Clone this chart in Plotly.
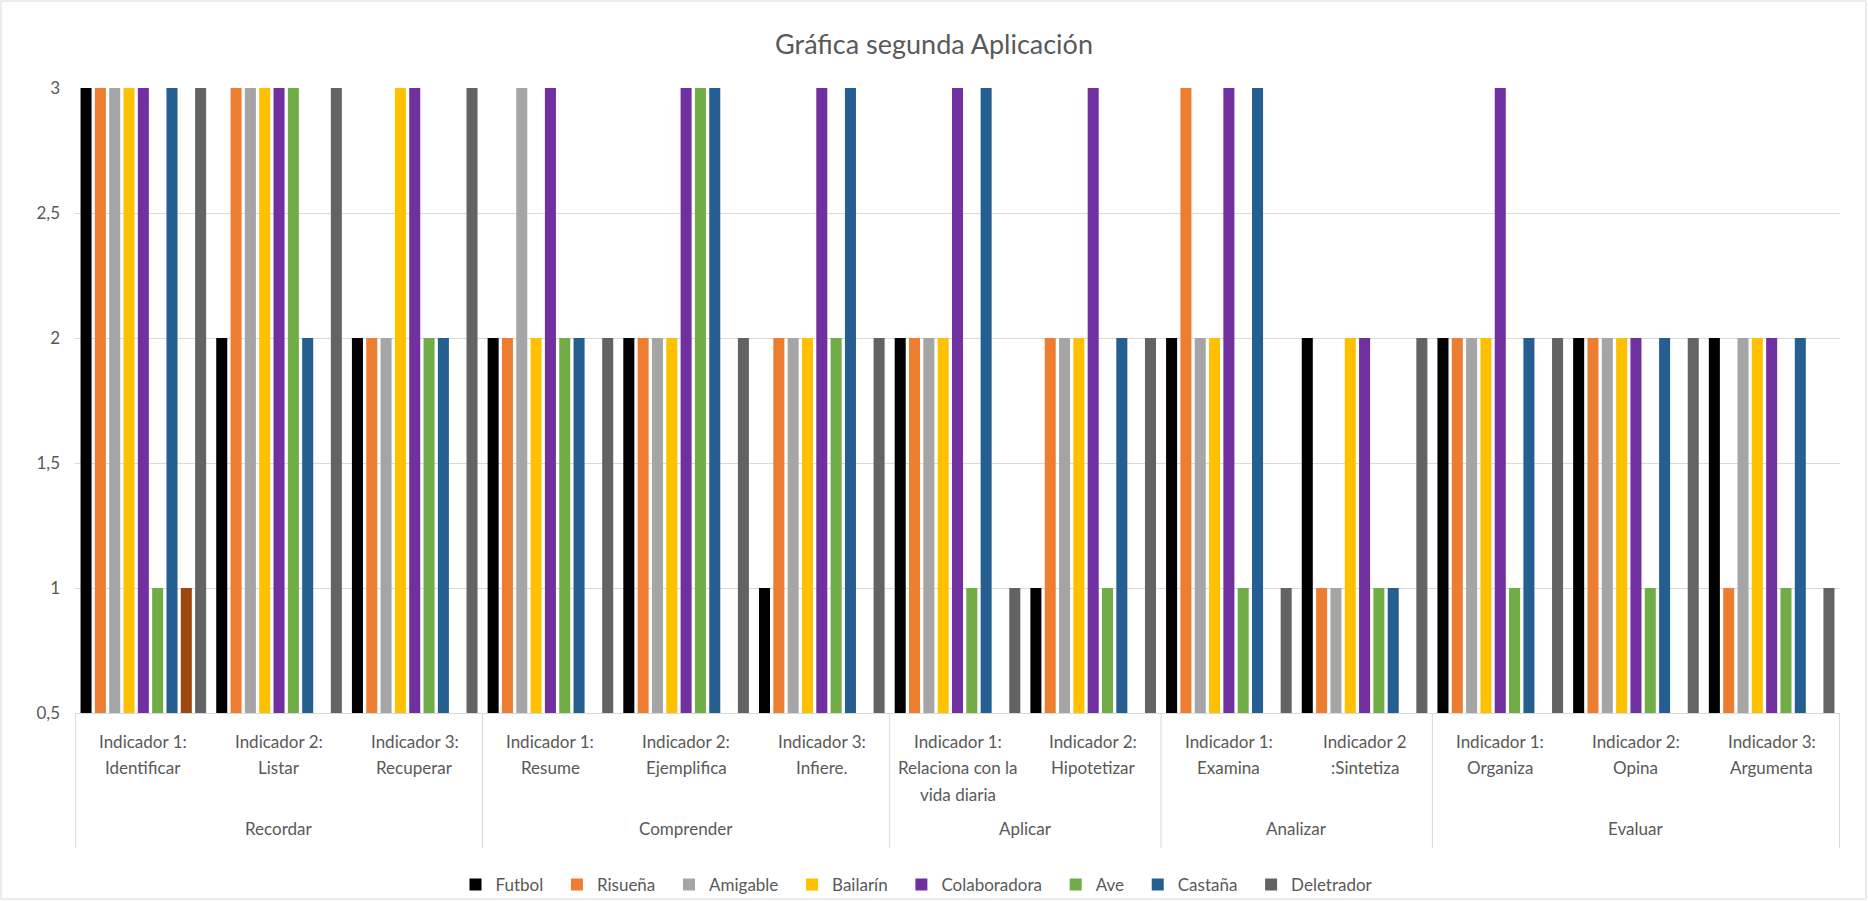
import plotly.graph_objects as go

# ---- data ----
groups = ["Recordar"] * 3 + ["Comprender"] * 3 + ["Aplicar"] * 2 + ["Analizar"] * 2 + ["Evaluar"] * 3
indicators = [
    "Indicador 1:<br>Identificar", "Indicador 2:<br>Listar", "Indicador 3:<br>Recuperar",
    "Indicador 1:<br>Resume", "Indicador 2:<br>Ejemplifica", "Indicador 3:<br>Infiere.",
    "Indicador 1:<br>Relaciona con la<br>vida diaria", "Indicador 2:<br>Hipotetizar",
    "Indicador 1:<br>Examina", "Indicador 2<br>:Sintetiza",
    "Indicador 1:<br>Organiza", "Indicador 2:<br>Opina", "Indicador 3:<br>Argumenta",
]

futbol       = [3, 2, 2, 2, 2, 1, 2, 1, 2, 2, 2, 2, 2]
risuena      = [3, 3, 2, 2, 2, 2, 2, 2, 3, 1, 2, 2, 1]
amigable     = [3, 3, 2, 3, 2, 2, 2, 2, 2, 1, 2, 2, 2]
bailarin     = [3, 3, 3, 2, 2, 2, 2, 2, 2, 2, 2, 2, 2]
colaboradora = [3, 3, 3, 3, 3, 3, 3, 3, 3, 2, 3, 2, 2]
ave          = [1, 3, 2, 2, 3, 2, 1, 1, 1, 1, 1, 1, 1]
castana      = [3, 2, 2, 2, 3, 3, 3, 2, 3, 1, 2, 2, 2]
sin_nombre   = [1, None, None, None, None, None, None, None, None, None, None, None, None]
deletrador   = [3, 3, 3, 2, 2, 2, 1, 2, 1, 2, 2, 2, 1]

series = [
    ("Futbol", futbol, "#000000", True),
    ("Risueña", risuena, "#ED7D31", True),
    ("Amigable", amigable, "#A5A5A5", True),
    ("Bailarín", bailarin, "#FFC000", True),
    ("Colaboradora", colaboradora, "#7030A0", True),
    ("Ave", ave, "#70AD47", True),
    ("Castaña", castana, "#255E91", True),
    ("", sin_nombre, "#9E480E", False),
    ("Deletrador", deletrador, "#636363", True),
]

FONT = "Lato"
TXT = "#595959"
GRID = "#d9d9d9"
LBL = 17
PAD = "\u00a0\u00a0"

fig = go.Figure()
for name, vals, color, show in series:
    fig.add_trace(go.Bar(
        x=indicators, y=vals, name=(name + PAD) if show else name,
        marker=dict(color=color, line=dict(width=0)),
        showlegend=show,
    ))

W, H = 1868, 901
L, R, T, B = 75, 28, 88, 188
pw, ph = W - L - R, H - T - B

fig.update_layout(
    width=W, height=H,
    margin=dict(l=L, r=R, t=T, b=B, autoexpand=False),
    paper_bgcolor="white", plot_bgcolor="white",
    barmode="group", bargap=0.05, bargroupgap=0.23,
    separators=",.",
    font=dict(family=FONT, color=TXT, size=LBL),
    title=dict(text="Gráfica segunda Aplicación", x=0.5, xanchor="center",
               y=1 - 45 / H, yanchor="middle",
               font=dict(family=FONT, size=27, color=TXT)),
    legend=dict(orientation="h", x=0.5 - 37 / pw, xanchor="center", y=(T + ph - 885) / ph,
                yanchor="middle", font=dict(family=FONT, size=LBL, color=TXT),
                bgcolor="rgba(0,0,0,0)", itemwidth=30, traceorder="normal"),
)
fig.update_yaxes(range=[0.5, 3], dtick=0.5, tick0=0.5, showgrid=True, gridcolor=GRID,
                 gridwidth=1, zeroline=False, showline=False,
                 tickfont=dict(family=FONT, size=LBL, color=TXT), ticklabelstandoff=14)
fig.update_xaxes(type="category", showline=True, linecolor=GRID, linewidth=1,
                 showticklabels=False, ticks="")

# inner category labels (one annotation per text line)
line_offsets = [28, 54, 81]
for lab in indicators:
    for i, part in enumerate(lab.split("<br>")):
        fig.add_annotation(x=lab, y=0, xref="x", yref="paper", text=part,
                           showarrow=False, xanchor="center", yanchor="middle",
                           yshift=-line_offsets[i],
                           font=dict(family=FONT, size=LBL, color=TXT))

# outer group labels and dividers
order = []
for g in groups:
    if g not in order:
        order.append(g)
bounds = [-0.5]
for g in order:
    idx = [i for i, gg in enumerate(groups) if gg == g]
    fig.add_annotation(x=sum(idx) / len(idx), y=0, xref="x", yref="paper", text=g,
                       showarrow=False, xanchor="center", yanchor="middle", yshift=-115,
                       font=dict(family=FONT, size=LBL, color=TXT))
    bounds.append(max(idx) + 0.5)
for bx in bounds:
    fig.add_shape(type="line", xref="x", yref="paper", x0=bx, x1=bx, y0=0, y1=-135 / ph,
                  line=dict(color=GRID, width=1))

# chart area border
fig.add_shape(type="rect", xref="paper", yref="paper",
              x0=(1 - L) / pw, x1=(W - 2 - L) / pw,
              y0=(T + ph - (H - 2)) / ph, y1=(T + ph - 1) / ph,
              line=dict(color=GRID, width=1), fillcolor="rgba(0,0,0,0)", layer="below")

fig.write_html("out.html")
